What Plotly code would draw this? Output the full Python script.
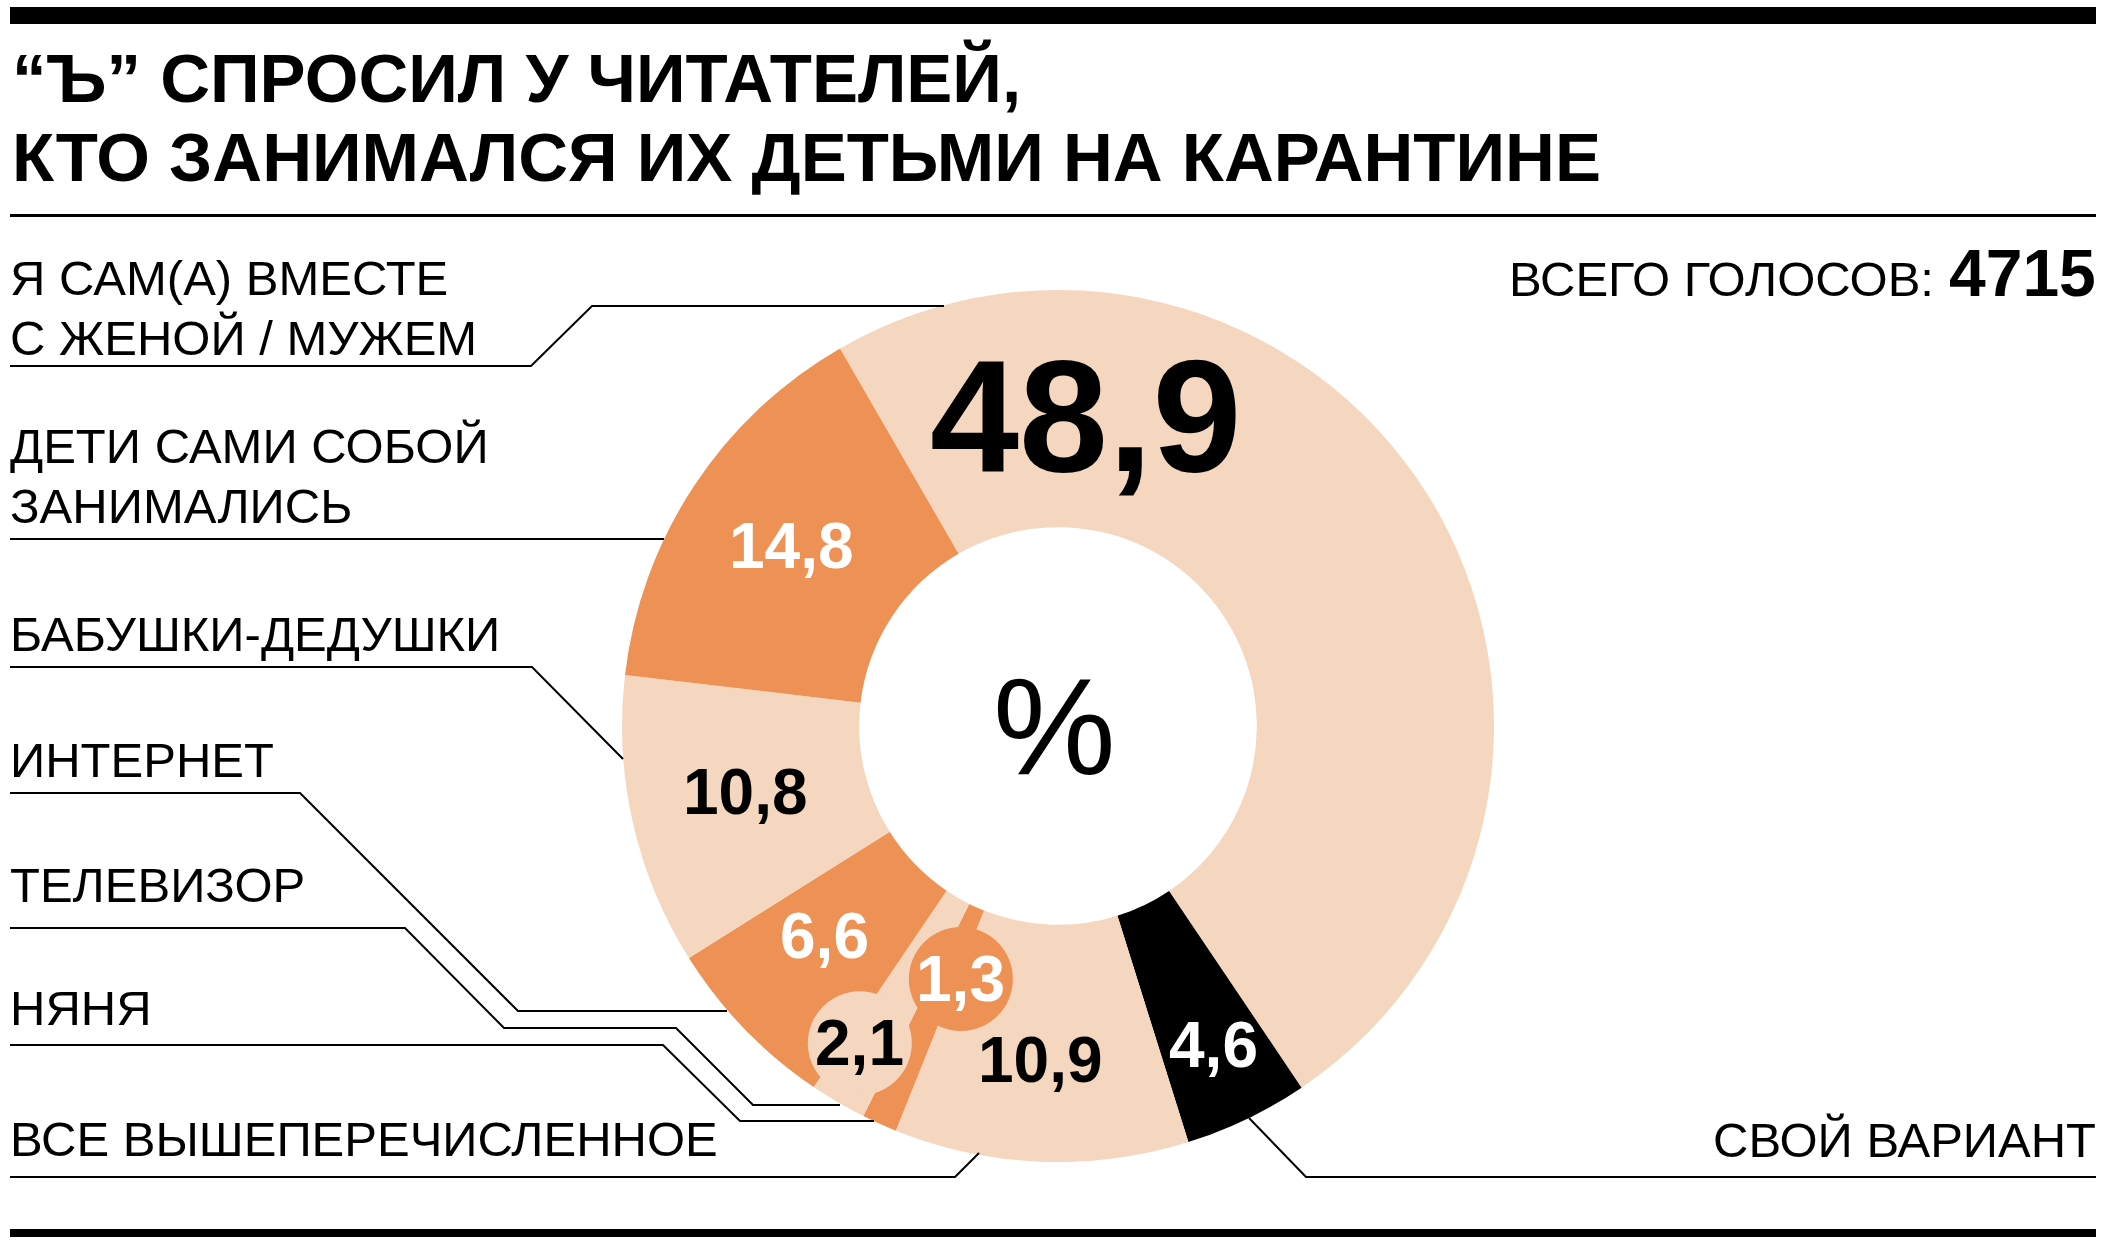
import math
import plotly.graph_objects as go

W, H = 2106, 1248

# ---------------- data ----------------
categories = [
    "Я САМ(А) ВМЕСТЕ С ЖЕНОЙ / МУЖЕМ",
    "СВОЙ ВАРИАНТ",
    "ВСЕ ВЫШЕПЕРЕЧИСЛЕННОЕ",
    "НЯНЯ",
    "ТЕЛЕВИЗОР",
    "ИНТЕРНЕТ",
    "БАБУШКИ-ДЕДУШКИ",
    "ДЕТИ САМИ СОБОЙ ЗАНИМАЛИСЬ",
]
values = [48.9, 4.6, 10.9, 1.3, 2.1, 6.6, 10.8, 14.8]
value_labels = ["48,9", "4,6", "10,9", "1,3", "2,1", "6,6", "10,8", "14,8"]
total_votes = "4715"
title_lines = ["“Ъ” СПРОСИЛ У ЧИТАТЕЛЕЙ,", "КТО ЗАНИМАЛСЯ ИХ ДЕТЬМИ НА КАРАНТИНЕ"]

# ---------------- style ----------------
LIGHT = "#F5D6BF"
ORANGE = "#EE9155"
BLACK = "#000000"
slice_colors = [LIGHT, BLACK, LIGHT, ORANGE, LIGHT, ORANGE, LIGHT, ORANGE]
text_colors = ["#000000", "#FFFFFF", "#000000", "#FFFFFF", "#000000", "#FFFFFF", "#000000", "#FFFFFF"]
text_sizes = [160, 64, 64, 64, 64, 64, 64, 64]
bubble = [False, False, False, True, True, False, False, False]
BUBBLE_R = 52

# donut geometry (pixels)
CX, CY, R = 1058, 726, 436
HOLE = 0.456
START = 330  # clockwise from 12 o'clock

# label placement in polar form (angle clockwise from 12 o'clock, radius px)
label_angles = [5, 154, 183, 201, 212, 228, 258, 304]
label_radii = [312, 355, 334, 271, 374, 314, 319, 321]

FONT = "Liberation Sans, Arial, Helvetica, sans-serif"


def px(x):
    return x / W


def py(y):
    return 1 - y / H


fig = go.Figure()
fig.add_trace(go.Pie(
    labels=categories,
    values=values,
    sort=False,
    direction="clockwise",
    rotation=START,
    hole=HOLE,
    marker=dict(colors=slice_colors, line=dict(width=0)),
    textinfo="none",
    hoverinfo="label+value",
    showlegend=False,
    domain=dict(x=[px(CX - R), px(CX + R)], y=[py(CY + R), py(CY - R)]),
))

shapes = []
annotations = []


def text_ann(text, x, baseline, size, color="#000000", weight="normal", xanchor="left"):
    annotations.append(dict(
        text=text, x=px(x), y=py(baseline - 0.36 * size), xref="paper", yref="paper",
        xanchor=xanchor, yanchor="middle", showarrow=False,
        font=dict(family=FONT, size=size, color=color, weight=weight),
    ))


def polyline(points, width=2):
    path = "M " + " L ".join(f"{px(x):.6f},{py(y):.6f}" for x, y in points)
    shapes.append(dict(type="path", path=path, xref="paper", yref="paper",
                       line=dict(color="#000000", width=width)))


# bars and rules
shapes.append(dict(type="rect", xref="paper", yref="paper", x0=px(10), x1=px(2096),
                   y0=py(7), y1=py(24), fillcolor="#000000", line=dict(width=0)))
shapes.append(dict(type="rect", xref="paper", yref="paper", x0=px(10), x1=px(2096),
                   y0=py(214), y1=py(217), fillcolor="#000000", line=dict(width=0)))
shapes.append(dict(type="rect", xref="paper", yref="paper", x0=px(10), x1=px(2096),
                   y0=py(1229), y1=py(1237), fillcolor="#000000", line=dict(width=0)))

# title
text_ann(title_lines[0], 10, 103, 69, weight="bold")
text_ann(title_lines[1], 10, 182, 69, weight="bold")

# total votes
text_ann("<b>" + total_votes + "</b>", 2098, 297, 66, xanchor="right")
text_ann("ВСЕГО ГОЛОСОВ:", 1936, 297, 49, xanchor="right")

# category labels (lines) and leader lines
LBL = 49
text_ann("Я САМ(А) ВМЕСТЕ", 8, 296, LBL)
text_ann("С ЖЕНОЙ / МУЖЕМ", 8, 356, LBL)
polyline([(10, 366), (531, 366), (592, 306), (944, 306)])

text_ann("ДЕТИ САМИ СОБОЙ", 8, 464, LBL)
text_ann("ЗАНИМАЛИСЬ", 8, 524, LBL)
polyline([(10, 539), (664, 539)])

text_ann("БАБУШКИ-ДЕДУШКИ", 8, 652, LBL)
polyline([(10, 667), (532, 667), (623, 759)])

text_ann("ИНТЕРНЕТ", 8, 778, LBL)
polyline([(10, 793), (300, 793), (518, 1011), (727, 1011)])

text_ann("ТЕЛЕВИЗОР", 8, 903, LBL)
polyline([(10, 928), (405, 928), (504, 1028), (676, 1028), (753, 1105), (840, 1105)])

text_ann("НЯНЯ", 8, 1026, LBL)
polyline([(10, 1045), (663, 1045), (740, 1121), (874, 1121)])

text_ann("ВСЕ ВЫШЕПЕРЕЧИСЛЕННОЕ", 8, 1157, LBL)
polyline([(10, 1177), (955, 1177), (979, 1153)])

text_ann("СВОЙ ВАРИАНТ", 2098, 1158, LBL, xanchor="right")
polyline([(2096, 1177), (1306, 1177), (1249, 1118)])

# value labels inside the donut
for i, lab in enumerate(value_labels):
    a = math.radians(label_angles[i])
    x = CX + label_radii[i] * math.sin(a)
    y = CY - label_radii[i] * math.cos(a)
    if bubble[i]:
        shapes.append(dict(type="circle", xref="paper", yref="paper",
                           x0=px(x - BUBBLE_R), x1=px(x + BUBBLE_R),
                           y0=py(y + BUBBLE_R), y1=py(y - BUBBLE_R),
                           fillcolor=slice_colors[i], line=dict(width=0)))
    annotations.append(dict(
        text=lab, x=px(x), y=py(y), xref="paper", yref="paper",
        xanchor="center", yanchor="middle", showarrow=False,
        font=dict(family=FONT, size=text_sizes[i], color=text_colors[i], weight="bold"),
    ))

# percent sign in the hole
annotations.append(dict(
    text="%", x=px(CX - 4), y=py(CY), xref="paper", yref="paper",
    xanchor="center", yanchor="middle", showarrow=False,
    font=dict(family=FONT, size=138, color="#000000"),
))

fig.update_layout(
    width=W, height=H,
    margin=dict(l=0, r=0, t=0, b=0),
    paper_bgcolor="#FFFFFF", plot_bgcolor="#FFFFFF",
    shapes=shapes, annotations=annotations,
)

fig.write_html("out.html")
